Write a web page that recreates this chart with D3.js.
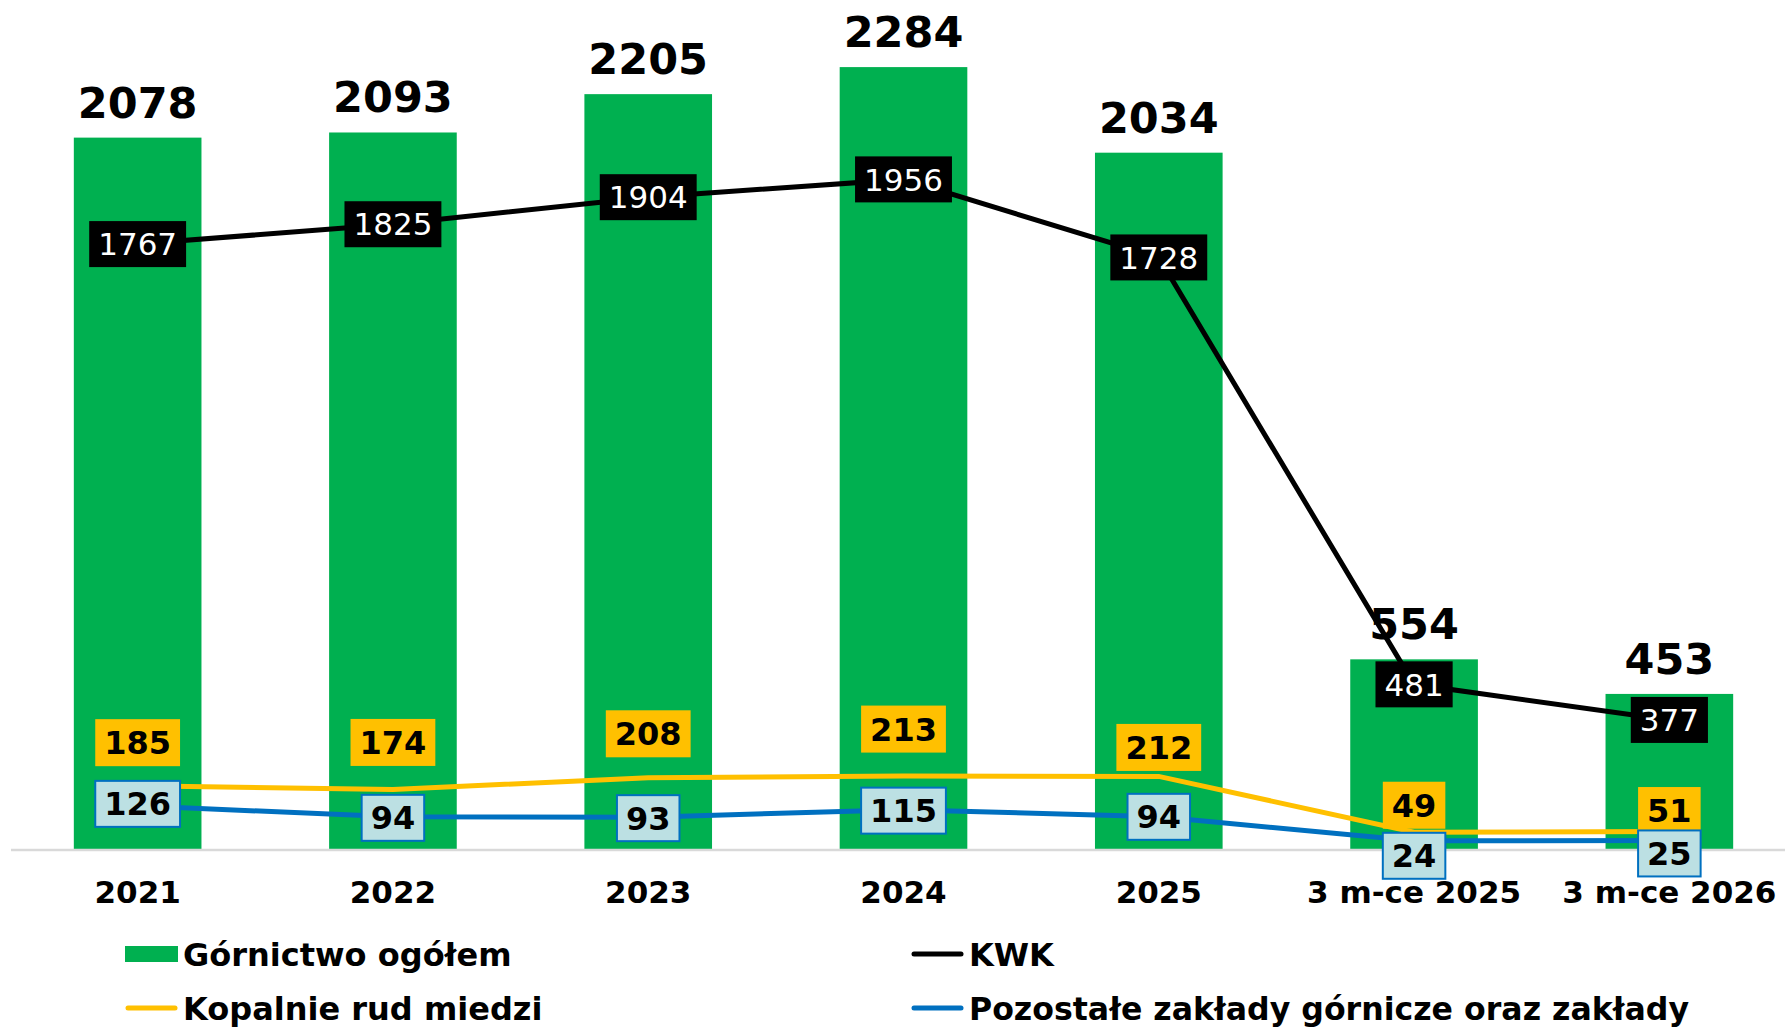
<!DOCTYPE html>
<html>
<head>
<meta charset="utf-8">
<script src="https://cdn.jsdelivr.net/npm/d3@7"></script>
<style>
  body { margin: 0; background: #fff; }
  text { font-family: "DejaVu Sans", Verdana, sans-serif; }
</style>
</head>
<body>
<div class="vis"></div>
<script>
// data
const categories = ["2021", "2022", "2023", "2024", "2025", "3 m-ce 2025", "3 m-ce 2026"];
const totalMining = [2078, 2093, 2205, 2284, 2034, 554, 453];   // Górnictwo ogółem
const kwk = [1767, 1825, 1904, 1956, 1728, 481, 377];            // KWK
const copper = [185, 174, 208, 213, 212, 49, 51];                // Kopalnie rud miedzi
const other = [126, 94, 93, 115, 94, 24, 25];                    // Pozostałe zakłady

const legendItems = [
  { name: "Górnictwo ogółem", type: "bar", color: "#00B050" },
  { name: "KWK", type: "line", color: "#000000" },
  { name: "Kopalnie rud miedzi", type: "line", color: "#FFC000" },
  { name: "Pozostałe zakłady górnicze oraz zakłady", type: "line", color: "#0070C0" },
];

// label nudges (px) so labels don't sit on the other lines
const copperLabelDy = [-43, -47, -44, -47, -29, -27, -21];
const otherLabelDy = [-2, 1, 1, 1, 0, 15, 13];

const W = 1785, H = 1027;
const baseY = 849;

const svg = d3.select(".vis").append("svg")
  .attr("width", W)
  .attr("height", H);

const x = d3.scaleBand()
  .domain(categories)
  .range([10, 1797])
  .paddingInner(0.5)
  .paddingOuter(0.25);

const y = d3.scaleLinear()
  .domain([0, 2480])
  .range([baseY, 0]);

const cx = (i) => x(categories[i]) + x.bandwidth() / 2;

// bars
svg.selectAll(".bar")
  .data(totalMining)
  .enter()
  .append("rect")
  .attr("class", "bar")
  .attr("x", (d, i) => x(categories[i]))
  .attr("y", (d) => y(d))
  .attr("width", x.bandwidth())
  .attr("height", (d) => baseY - y(d))
  .attr("fill", "#00B050");

// baseline
svg.append("line")
  .attr("x1", 11).attr("x2", W)
  .attr("y1", baseY + 1).attr("y2", baseY + 1)
  .attr("stroke", "#d9d9d9")
  .attr("stroke-width", 2.5);

// category axis
const axis = svg.append("g")
  .attr("transform", "translate(0," + baseY + ")")
  .call(d3.axisBottom(x).tickSize(0).tickSizeOuter(0));
axis.select(".domain").remove();
axis.selectAll("text")
  .attr("y", 54)
  .attr("dy", 0)
  .attr("fill", "#000")
  .style("font-family", '"DejaVu Sans", Verdana, sans-serif')
  .style("font-size", "31px")
  .style("font-weight", "bold");

// totals above bars
svg.selectAll(".total")
  .data(totalMining)
  .enter()
  .append("text")
  .attr("class", "total")
  .attr("x", (d, i) => cx(i))
  .attr("y", (d) => y(d) - 20)
  .attr("text-anchor", "middle")
  .attr("font-size", 43)
  .attr("font-weight", "bold")
  .attr("fill", "#000")
  .text((d) => d);

// lines
const line = d3.line()
  .x((d, i) => cx(i))
  .y((d) => y(d));

svg.append("path").datum(kwk)
  .attr("fill", "none").attr("stroke", "#000").attr("stroke-width", 5)
  .attr("d", line);
svg.append("path").datum(copper)
  .attr("fill", "none").attr("stroke", "#FFC000").attr("stroke-width", 5)
  .attr("d", line);
svg.append("path").datum(other)
  .attr("fill", "none").attr("stroke", "#0070C0").attr("stroke-width", 5)
  .attr("d", line);

// boxed labels
function boxLabels(values, dys, opts) {
  const g = svg.append("g");
  values.forEach((v, i) => {
    const cy = y(v) + (dys ? dys[i] : 0);
    const lg = g.append("g").attr("transform", "translate(" + cx(i) + "," + cy + ")");
    const rect = lg.append("rect");
    const t = lg.append("text")
      .attr("text-anchor", "middle")
      .attr("dy", "0.36em")
      .attr("font-size", opts.size)
      .attr("font-weight", opts.weight)
      .attr("fill", opts.textColor)
      .text(v);
    const w = t.node().getComputedTextLength() + opts.pad * 2;
    rect.attr("x", -w / 2).attr("y", -opts.h / 2)
      .attr("width", w).attr("height", opts.h)
      .attr("fill", opts.fill);
    if (opts.stroke) rect.attr("stroke", opts.stroke).attr("stroke-width", 2);
  });
}

boxLabels(kwk, null, { size: 31, weight: "normal", textColor: "#fff", fill: "#000", pad: 9, h: 46 });
boxLabels(copper, copperLabelDy, { size: 32, weight: "bold", textColor: "#000", fill: "#FFC000", pad: 9, h: 47 });
boxLabels(other, otherLabelDy, { size: 32, weight: "bold", textColor: "#000", fill: "#BCE0E3", stroke: "#0070C0", pad: 9, h: 46 });

// legend
const legendPos = [[125, 954], [911, 954], [125, 1008], [911, 1008]];
legendItems.forEach((item, i) => {
  const [lx, ly] = legendPos[i];
  const g = svg.append("g").attr("transform", "translate(" + lx + "," + ly + ")");
  if (item.type === "bar") {
    g.append("rect").attr("x", 0).attr("y", -8).attr("width", 53).attr("height", 16)
      .attr("fill", item.color);
  } else {
    g.append("line").attr("x1", 3).attr("x2", 50).attr("y1", 0).attr("y2", 0)
      .attr("stroke", item.color).attr("stroke-width", 5).attr("stroke-linecap", "round");
  }
  const t = g.append("text")
    .attr("x", 58)
    .attr("y", 0)
    .attr("dy", "0.36em")
    .attr("font-size", 32)
    .attr("font-weight", "bold")
    .attr("fill", "#000")
    .text(item.name);
  // the long entry is a little condensed in the original
  if (t.node().getComputedTextLength() > 720) {
    t.attr("textLength", 720).attr("lengthAdjust", "spacingAndGlyphs");
  }
});
</script>
</body>
</html>
